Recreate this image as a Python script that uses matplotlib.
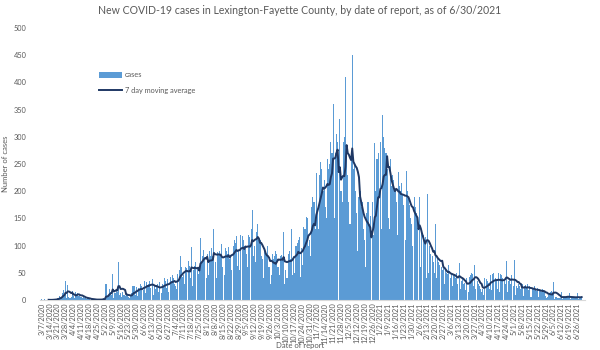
import numpy as np
import pandas as pd
import matplotlib
matplotlib.use('Agg')
import matplotlib.pyplot as plt

# daily reported cases, one row per week, starting Sat 3/7/2020 (last row: 6/26-6/30/2021)
cases = [
    1, 0, 1, 0, 0, 0, 0,
    0, 0, 1, 1, 1, 2, 1,
    4, 3, 8, 6, 12, 18, 10,
    34, 3, 27, 5, 4, 6, 16,
    8, 4, 15, 10, 12, 7, 6,
    5, 3, 6, 4, 3, 2, 3,
    1, 0, 1, 2, 1, 0, 1,
    0, 0, 1, 2, 1, 2, 3,
    2, 30, 5, 8, 20, 14, 10,
    48, 4, 12, 18, 15, 70, 10,
    12, 5, 14, 10, 8, 11, 9,
    6, 4, 9, 12, 26, 26, 10,
    24, 8, 22, 20, 30, 25, 18,
    34, 12, 33, 28, 30, 35, 22,
    38, 10, 25, 20, 28, 30, 14,
    33, 12, 30, 25, 40, 34, 22,
    38, 14, 42, 35, 45, 40, 30,
    25, 20, 48, 55, 80, 60, 42,
    45, 30, 60, 58, 72, 62, 40,
    97, 25, 55, 62, 70, 58, 48,
    60, 114, 70, 80, 92, 75, 40,
    85, 45, 90, 80, 95, 80, 130,
    70, 40, 88, 85, 90, 80, 103,
    60, 45, 95, 90, 85, 98, 75,
    80, 55, 100, 110, 105, 118, 62,
    90, 55, 120, 118, 110, 100, 95,
    85, 60, 120, 115, 130, 165, 80,
    100, 70, 125, 140, 110, 110, 80,
    75, 40, 95, 90, 85, 100, 60,
    30, 45, 85, 75, 80, 90, 85,
    60, 45, 80, 82, 75, 125, 30,
    55, 40, 85, 90, 75, 130, 45,
    80, 50, 100, 105, 110, 115, 42,
    95, 65, 135, 130, 152, 150, 100,
    110, 80, 170, 190, 180, 130, 233,
    160, 130, 230, 254, 240, 200, 220,
    170, 150, 260, 240, 250, 290, 270,
    360, 150, 270, 305, 290, 0, 333,
    200, 180, 290, 300, 410, 280, 230,
    180, 140, 260, 450, 240, 250, 200,
    160, 90, 190, 200, 170, 180, 130,
    110, 60, 160, 180, 140, 155, 0,
    180, 120, 289, 200, 260, 270, 0,
    290, 130, 340, 300, 280, 270, 240,
    150, 130, 260, 210, 230, 220, 200,
    180, 120, 236, 210, 200, 215, 195,
    175, 110, 238, 200, 190, 175, 150,
    140, 100, 190, 170, 160, 150, 0,
    190, 60, 130, 120, 110, 115, 40,
    195, 50, 100, 85, 80, 70, 50,
    140, 40, 75, 70, 65, 60, 55,
    60, 30, 55, 50, 48, 65, 40,
    50, 25, 48, 45, 40, 50, 30,
    68, 20, 35, 38, 30, 32, 18,
    40, 15, 42, 45, 50, 48, 25,
    64, 20, 35, 30, 25, 20, 15,
    20, 10, 40, 38, 35, 32, 20,
    45, 18, 48, 50, 40, 35, 20,
    50, 15, 48, 45, 40, 38, 30,
    72, 15, 35, 38, 30, 45, 25,
    74, 10, 25, 22, 30, 25, 20,
    30, 8, 25, 28, 22, 30, 18,
    25, 6, 22, 20, 25, 18, 17,
    22, 5, 18, 15, 20, 18, 14,
    8, 3, 5, 12, 14, 16, 12,
    33, 2, 6, 5, 4, 3, 3,
    14, 2, 5, 6, 4, 5, 6,
    12, 1, 4, 5, 3, 5, 4,
    13, 2, 3, 4, 6,
]

start_date = '2020-03-07'
title = 'New COVID-19 cases in Lexington-Fayette County, by date of report, as of 6/30/2021'

dates = pd.date_range(start_date, periods=len(cases), freq='D')
df = pd.DataFrame({'cases': cases}, index=dates)
df['avg7'] = df['cases'].rolling(7).mean()

plt.rcParams['font.family'] = ['Lato', 'DejaVu Sans']
grey = '#595959'

fig = plt.figure(figsize=(6, 3.5), dpi=100)
ax = fig.add_axes([0.067, 0.143, 0.908, 0.777])

x = np.arange(len(df))
bars = ax.bar(x, df['cases'], width=0.95, color='#5B9BD5', label='cases', zorder=2)
line, = ax.plot(x, df['avg7'], color='#1F3864', lw=1.4, label='7 day moving average', zorder=3)

ax.set_xlim(-1.5, 483)
ax.set_ylim(0, 500)
ax.set_yticks(np.arange(0, 501, 50))

tick_pos = x[::7]
tick_lab = [f'{d.month}/{d.day}/{d.year}' for d in dates[::7]]
ax.set_xticks(tick_pos)
ax.set_xticklabels(tick_lab, rotation=90)

ax.tick_params(axis='x', length=0, labelsize=5.3, colors=grey, pad=2)
ax.tick_params(axis='y', length=0, labelsize=5.3, colors=grey, pad=10)

for s in ['top', 'right', 'left']:
    ax.spines[s].set_visible(False)
ax.spines['bottom'].set_color('#D9D9D9')
ax.spines['bottom'].set_linewidth(0.8)

ax.set_ylabel('Number of cases', fontsize=5.5, color=grey, labelpad=3)
fig.text(0.5, 0.003, 'Date of report', fontsize=5.5, color=grey, ha='center', va='bottom')

fig.suptitle(title, fontsize=7.6, color=grey, y=0.985)

ax.legend([bars, line], ['cases', '7 day moving average'],
          loc='upper left', bbox_to_anchor=(0.095, 0.865), frameon=False,
          fontsize=5.3, labelcolor=grey, handlelength=3.2, handleheight=0.9,
          labelspacing=1.2, handletextpad=0.4)

fig.savefig('out.png', dpi=100)
